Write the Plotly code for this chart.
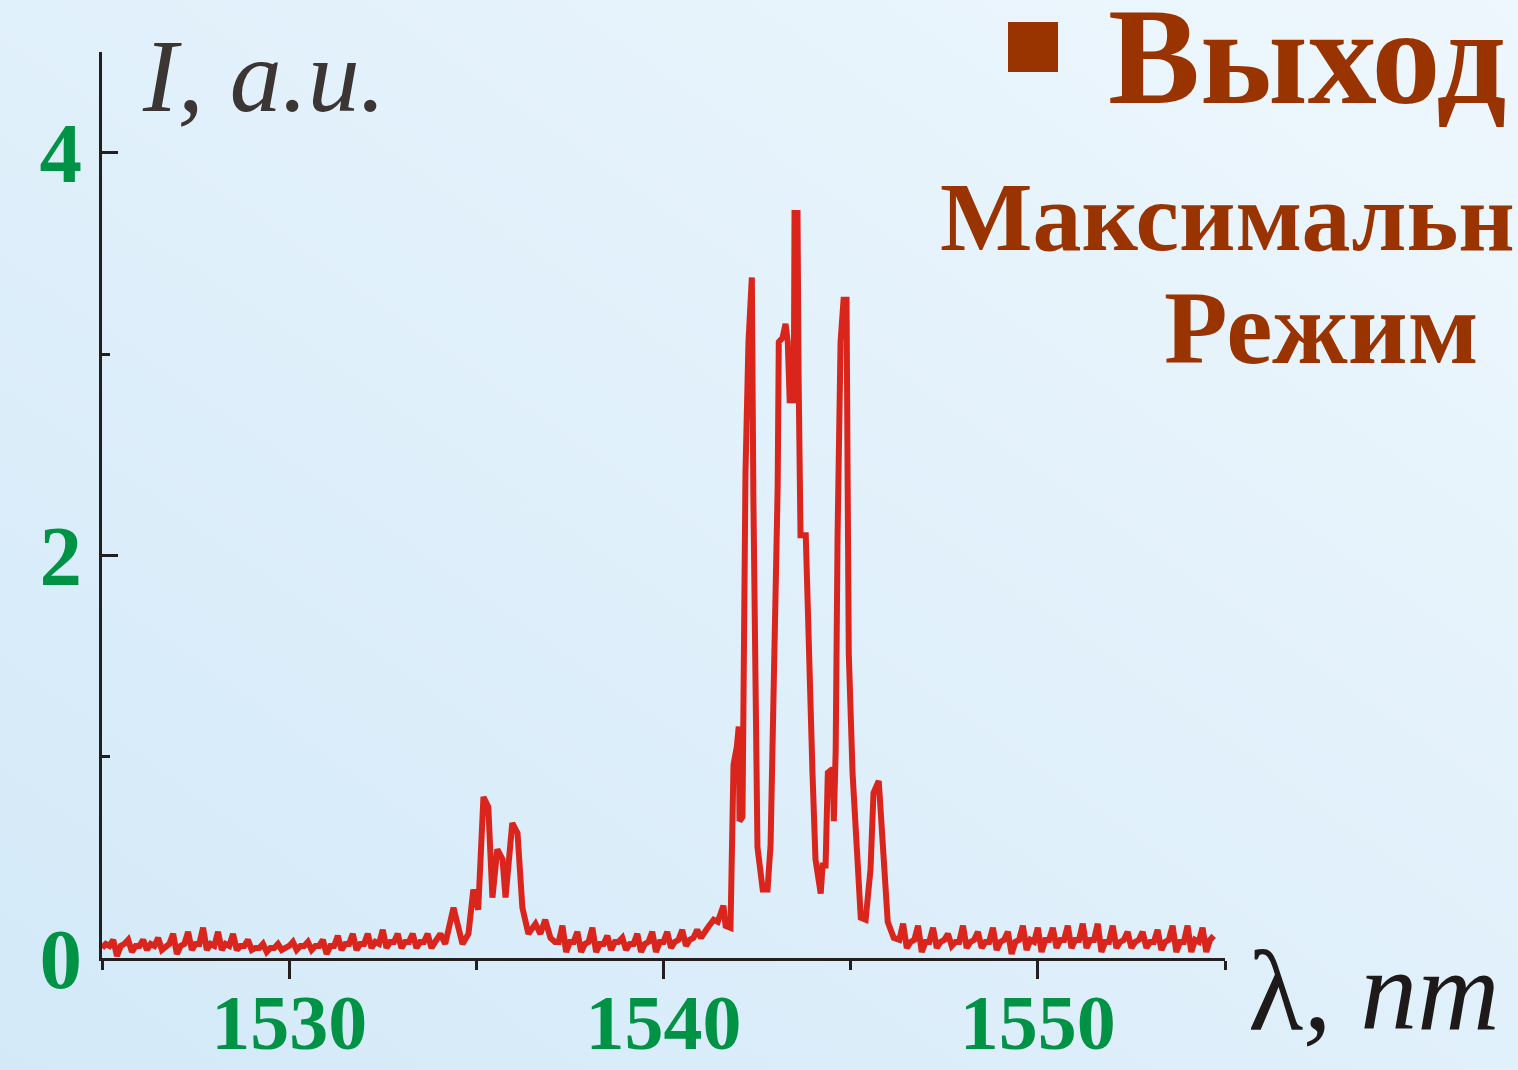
import base64
import plotly.graph_objects as go

# ---------------- data ----------------
seg1_wl = [1525.0, 1525.1, 1525.2, 1525.3, 1525.4, 1525.5, 1525.6, 1525.7, 1525.8, 1525.9,
           1526.0, 1526.1, 1526.2, 1526.3, 1526.4, 1526.5, 1526.6, 1526.7, 1526.8, 1526.9,
           1527.0, 1527.1, 1527.2, 1527.3, 1527.4, 1527.5, 1527.6, 1527.7, 1527.8, 1527.9,
           1528.0, 1528.1, 1528.2, 1528.3, 1528.4, 1528.5, 1528.6, 1528.7, 1528.8, 1528.9,
           1529.0, 1529.1, 1529.2, 1529.3, 1529.4, 1529.5, 1529.6, 1529.7, 1529.8, 1529.9,
           1530.0, 1530.1, 1530.2, 1530.3, 1530.4, 1530.5, 1530.6, 1530.7, 1530.8, 1530.9,
           1531.0, 1531.1, 1531.2, 1531.3, 1531.4, 1531.5, 1531.6, 1531.7, 1531.8, 1531.9,
           1532.0, 1532.1, 1532.2, 1532.3, 1532.4, 1532.5, 1532.6, 1532.7, 1532.8, 1532.9,
           1533.0, 1533.1, 1533.2, 1533.3, 1533.4, 1533.5, 1533.6, 1533.7, 1533.8, 1533.9]
seg1_int = [0.05, 0.07, 0.06, 0.09, 0.01, 0.06, 0.07, 0.09, 0.03, 0.06,
            0.06, 0.09, 0.04, 0.07, 0.06, 0.10, 0.04, 0.06, 0.07, 0.12,
            0.02, 0.06, 0.07, 0.13, 0.04, 0.07, 0.07, 0.15, 0.04, 0.07,
            0.06, 0.13, 0.04, 0.07, 0.06, 0.12, 0.04, 0.06, 0.06, 0.09,
            0.04, 0.05, 0.05, 0.07, 0.03, 0.05, 0.05, 0.07, 0.04, 0.05,
            0.06, 0.08, 0.04, 0.06, 0.06, 0.08, 0.04, 0.06, 0.06, 0.09,
            0.02, 0.06, 0.06, 0.11, 0.04, 0.07, 0.07, 0.12, 0.04, 0.07,
            0.07, 0.12, 0.05, 0.08, 0.07, 0.14, 0.05, 0.08, 0.08, 0.12,
            0.05, 0.08, 0.08, 0.12, 0.05, 0.08, 0.08, 0.12, 0.05, 0.08]

seg2_wl = [1534.04, 1534.17, 1534.39, 1534.63, 1534.79, 1534.92, 1535.05, 1535.19, 1535.32,
           1535.43, 1535.56, 1535.70, 1535.78, 1535.96, 1536.10, 1536.23, 1536.39, 1536.58,
           1536.71, 1536.84, 1536.98]
seg2_int = [0.12, 0.07, 0.25, 0.07, 0.12, 0.34, 0.24, 0.80, 0.75,
            0.30, 0.54, 0.49, 0.30, 0.67, 0.62, 0.25, 0.12, 0.17,
            0.12, 0.19, 0.10]

seg3_wl = [1537.1, 1537.2, 1537.3, 1537.4, 1537.5, 1537.6, 1537.7, 1537.8, 1537.9, 1538.0,
           1538.1, 1538.2, 1538.3, 1538.4, 1538.5, 1538.6, 1538.7, 1538.8, 1538.9, 1539.0,
           1539.1, 1539.2, 1539.3, 1539.4, 1539.5, 1539.6, 1539.7, 1539.8, 1539.9, 1540.0,
           1540.1, 1540.2, 1540.3, 1540.4, 1540.5, 1540.6, 1540.7, 1540.8, 1540.9]
seg3_int = [0.08, 0.08, 0.16, 0.03, 0.08, 0.08, 0.13, 0.03, 0.07, 0.08,
            0.15, 0.03, 0.07, 0.07, 0.11, 0.04, 0.08, 0.08, 0.10, 0.04,
            0.07, 0.07, 0.12, 0.03, 0.07, 0.08, 0.13, 0.03, 0.08, 0.08,
            0.13, 0.05, 0.08, 0.09, 0.14, 0.06, 0.09, 0.10, 0.14]

seg4_wl = [1541.00, 1541.18, 1541.34, 1541.45, 1541.60, 1541.66, 1541.79, 1541.87, 1541.96,
           1542.01, 1542.03, 1542.11, 1542.14, 1542.19, 1542.27, 1542.36, 1542.40, 1542.44,
           1542.47, 1542.51, 1542.65, 1542.78, 1542.86, 1542.94, 1543.05, 1543.08, 1543.18,
           1543.26, 1543.32, 1543.37, 1543.48, 1543.50, 1543.58, 1543.61, 1543.64, 1543.66,
           1543.80, 1543.88, 1543.98, 1544.06, 1544.20, 1544.25, 1544.33, 1544.39, 1544.52,
           1544.55, 1544.60, 1544.65, 1544.73, 1544.81, 1544.89, 1544.92, 1544.95, 1545.05,
           1545.19, 1545.27, 1545.40, 1545.53, 1545.61, 1545.75, 1545.86, 1545.99, 1546.15]
seg4_int = [0.10, 0.15, 0.19, 0.18, 0.26, 0.16, 0.15, 0.96, 1.05,
            1.15, 0.68, 0.70, 1.98, 2.41, 3.06, 3.38, 2.30, 1.70,
            1.10, 0.55, 0.34, 0.34, 0.56, 1.27, 2.34, 3.06, 3.08,
            3.15, 3.06, 2.77, 2.77, 3.70, 3.70, 2.87, 2.46, 2.10,
            2.10, 1.51, 0.92, 0.49, 0.32, 0.46, 0.46, 0.92, 0.94,
            0.68, 1.03, 2.10, 3.06, 3.27, 3.27, 2.34, 1.51, 0.92,
            0.44, 0.20, 0.19, 0.44, 0.82, 0.88, 0.56, 0.18, 0.10]

seg5_wl = [1546.3, 1546.4, 1546.5, 1546.6, 1546.7, 1546.8, 1546.9, 1547.0, 1547.1, 1547.2,
           1547.3, 1547.4, 1547.5, 1547.6, 1547.7, 1547.8, 1547.9, 1548.0, 1548.1, 1548.2,
           1548.3, 1548.4, 1548.5, 1548.6, 1548.7, 1548.8, 1548.9, 1549.0, 1549.1, 1549.2,
           1549.3, 1549.4, 1549.5, 1549.6, 1549.7, 1549.8, 1549.9, 1550.0, 1550.1, 1550.2,
           1550.3, 1550.4, 1550.5, 1550.6, 1550.7, 1550.8, 1550.9, 1551.0, 1551.1, 1551.2,
           1551.3, 1551.4, 1551.5, 1551.6, 1551.7, 1551.8, 1551.9, 1552.0, 1552.1, 1552.2,
           1552.3, 1552.4, 1552.5, 1552.6, 1552.7, 1552.8, 1552.9, 1553.0, 1553.1, 1553.2,
           1553.3, 1553.4, 1553.5, 1553.6, 1553.7, 1553.8, 1553.9, 1554.0, 1554.1, 1554.2,
           1554.3, 1554.4, 1554.5, 1554.6, 1554.7]
seg5_int = [0.09, 0.17, 0.05, 0.08, 0.09, 0.16, 0.03, 0.08, 0.08, 0.15,
            0.05, 0.08, 0.09, 0.12, 0.06, 0.08, 0.08, 0.16, 0.05, 0.08,
            0.09, 0.13, 0.05, 0.08, 0.08, 0.15, 0.04, 0.08, 0.09, 0.13,
            0.02, 0.08, 0.09, 0.16, 0.04, 0.09, 0.08, 0.15, 0.03, 0.09,
            0.09, 0.15, 0.05, 0.09, 0.09, 0.16, 0.05, 0.09, 0.09, 0.17,
            0.05, 0.09, 0.09, 0.17, 0.03, 0.08, 0.08, 0.16, 0.05, 0.08,
            0.09, 0.13, 0.05, 0.08, 0.09, 0.13, 0.05, 0.08, 0.08, 0.14,
            0.04, 0.08, 0.09, 0.16, 0.03, 0.08, 0.08, 0.16, 0.03, 0.09,
            0.08, 0.15, 0.03, 0.09, 0.11]

wavelength = seg1_wl + seg2_wl + seg3_wl + seg4_wl + seg5_wl
intensity = seg1_int + seg2_int + seg3_int + seg4_int + seg5_int

x_ticks = [1530, 1540, 1550]
y_ticks = [0, 2, 4]

# visible (clipped) slide text, as shown in the reference
title_main = "Выход"
title_line2 = "Максимальн"
title_line3 = "Режим"

# ---------------- figure ----------------
W, H = 1518, 1070
BROWN = "#993300"
GREEN = "#009245"
AXIS = "#231f20"

def px(x):
    return x / W

def py(y):
    return 1 - y / H

grad_svg = (
    '<svg xmlns="http://www.w3.org/2000/svg" width="1518" height="1070">'
    '<defs><linearGradient id="g" x1="0" y1="1" x2="1" y2="0">'
    '<stop offset="0" stop-color="#d3e9f8"/>'
    '<stop offset="1" stop-color="#eef7fd"/>'
    '</linearGradient></defs>'
    '<rect width="1518" height="1070" fill="url(#g)"/></svg>'
)
grad_uri = "data:image/svg+xml;base64," + base64.b64encode(grad_svg.encode()).decode()

fig = go.Figure()
fig.add_trace(go.Scatter(
    x=wavelength, y=intensity, mode="lines",
    line=dict(color="#da251d", width=6),
    hoverinfo="skip", showlegend=False,
))

xtickfont = dict(family="Liberation Serif", size=78, color=GREEN, weight="bold")
ytickfont = dict(family="Liberation Serif", size=85, color=GREEN, weight="bold")

fig.update_layout(
    width=W, height=H,
    margin=dict(l=0, r=0, t=0, b=0),
    paper_bgcolor="#e2f1fb",
    plot_bgcolor="rgba(0,0,0,0)",
    showlegend=False,
    xaxis=dict(
        domain=[px(102), px(1225)],
        range=[1525, 1555],
        tickmode="array", tickvals=x_ticks, ticktext=[str(v) for v in x_ticks],
        ticks="outside", ticklen=18, tickwidth=3, tickcolor=AXIS,
        minor=dict(tickmode="array", tickvals=[1525, 1535, 1545, 1555],
                   ticks="outside", ticklen=9, tickwidth=3, tickcolor=AXIS, showgrid=False),
        showline=True, linecolor=AXIS, linewidth=3,
        showgrid=False, zeroline=False,
        tickfont=xtickfont, automargin=False,
        ticklabelstandoff=-24,
    ),
    yaxis=dict(
        domain=[py(958), py(52)],
        range=[0, 4.5],
        tickmode="array", tickvals=y_ticks, ticktext=[str(v) for v in y_ticks],
        ticks="inside", ticklen=16, tickwidth=3, tickcolor=AXIS,
        minor=dict(tickmode="array", tickvals=[1, 3],
                   ticks="inside", ticklen=8, tickwidth=3, tickcolor=AXIS, showgrid=False),
        showline=True, linecolor=AXIS, linewidth=3,
        showgrid=False, zeroline=False,
        tickfont=ytickfont, automargin=False,
        ticklabelstandoff=0,
    ),
    images=[dict(source=grad_uri, xref="paper", yref="paper", x=0, y=1,
                 sizex=1, sizey=1, xanchor="left", yanchor="top",
                 sizing="stretch", layer="below")],
    shapes=[dict(type="rect", xref="paper", yref="paper",
                 x0=px(1008), x1=px(1058), y0=py(72), y1=py(22),
                 fillcolor=BROWN, line=dict(width=0))],
)

ann_common = dict(xref="paper", yref="paper", showarrow=False, xanchor="left", yanchor="middle")
fig.add_annotation(x=px(1106), y=py(57), text=title_main,
                   font=dict(family="Liberation Serif", size=138, color=BROWN, weight="bold"),
                   **ann_common)
fig.add_annotation(x=px(938), y=py(217), text=title_line2,
                   font=dict(family="Liberation Serif", size=98, color=BROWN, weight="bold"),
                   **ann_common)
fig.add_annotation(x=px(1162), y=py(327), text=title_line3,
                   font=dict(family="Liberation Serif", size=104, color=BROWN, weight="bold"),
                   **ann_common)
fig.add_annotation(x=px(140), y=py(76), text="<i>I, a.u.</i>",
                   font=dict(family="Liberation Serif", size=104, color="#3b3533"),
                   **ann_common)
fig.add_annotation(x=px(1246), y=py(990), text="λ<i>, nm</i>",
                   font=dict(family="Liberation Serif", size=114, color="#1f1a1a"),
                   **ann_common)

fig.write_html("out.html", config={"displayModeBar": False},
               post_script="document.body.style.margin='0';document.body.style.overflow='hidden';")
